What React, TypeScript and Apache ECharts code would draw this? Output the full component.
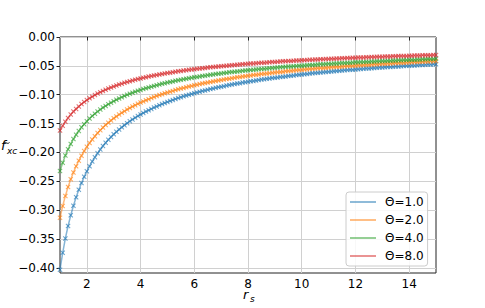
import React, { useEffect, useRef } from 'react';
import * as echarts from 'echarts';

const rs = [
  1.0, 1.1, 1.2, 1.3, 1.4, 1.5, 1.6, 1.7, 1.8, 1.9,
  2.0, 2.1, 2.2, 2.3, 2.4, 2.5, 2.6, 2.7, 2.8, 2.9,
  3.0, 3.1, 3.2, 3.3, 3.4, 3.5, 3.6, 3.7, 3.8, 3.9,
  4.0, 4.1, 4.2, 4.3, 4.4, 4.5, 4.6, 4.7, 4.8, 4.9,
  5.0, 5.1, 5.2, 5.3, 5.4, 5.5, 5.6, 5.7, 5.8, 5.9,
  6.0, 6.1, 6.2, 6.3, 6.4, 6.5, 6.6, 6.7, 6.8, 6.9,
  7.0, 7.1, 7.2, 7.3, 7.4, 7.5, 7.6, 7.7, 7.8, 7.9,
  8.0, 8.1, 8.2, 8.3, 8.4, 8.5, 8.6, 8.7, 8.8, 8.9,
  9.0, 9.1, 9.2, 9.3, 9.4, 9.5, 9.6, 9.7, 9.8, 9.9,
  10.0, 10.1, 10.2, 10.3, 10.4, 10.5, 10.6, 10.7, 10.8, 10.9,
  11.0, 11.1, 11.2, 11.3, 11.4, 11.5, 11.6, 11.7, 11.8, 11.9,
  12.0, 12.1, 12.2, 12.3, 12.4, 12.5, 12.6, 12.7, 12.8, 12.9,
  13.0, 13.1, 13.2, 13.3, 13.4, 13.5, 13.6, 13.7, 13.8, 13.9,
  14.0, 14.1, 14.2, 14.3, 14.4, 14.5, 14.6, 14.7, 14.8, 14.9,
  15.0,
];

const fxcTheta1 = [
  -0.4030, -0.3737, -0.3488, -0.3273, -0.3086, -0.2922, -0.2776, -0.2646, -0.2529, -0.2422,
  -0.2326, -0.2238, -0.2157, -0.2082, -0.2013, -0.1949, -0.1889, -0.1833, -0.1781, -0.1732,
  -0.1686, -0.1643, -0.1602, -0.1564, -0.1527, -0.1492, -0.1459, -0.1428, -0.1398, -0.1370,
  -0.1342, -0.1316, -0.1291, -0.1268, -0.1245, -0.1223, -0.1202, -0.1181, -0.1162, -0.1143,
  -0.1125, -0.1107, -0.1090, -0.1074, -0.1058, -0.1043, -0.1028, -0.1014, -0.1000, -0.0986,
  -0.0973, -0.0961, -0.0948, -0.0936, -0.0925, -0.0913, -0.0902, -0.0892, -0.0881, -0.0871,
  -0.0861, -0.0852, -0.0842, -0.0833, -0.0824, -0.0815, -0.0807, -0.0799, -0.0790, -0.0782,
  -0.0775, -0.0767, -0.0760, -0.0752, -0.0745, -0.0738, -0.0732, -0.0725, -0.0718, -0.0712,
  -0.0706, -0.0700, -0.0693, -0.0688, -0.0682, -0.0676, -0.0670, -0.0665, -0.0660, -0.0654,
  -0.0649, -0.0644, -0.0639, -0.0634, -0.0629, -0.0625, -0.0620, -0.0615, -0.0611, -0.0606,
  -0.0602, -0.0598, -0.0593, -0.0589, -0.0585, -0.0581, -0.0577, -0.0573, -0.0569, -0.0566,
  -0.0562, -0.0558, -0.0554, -0.0551, -0.0547, -0.0544, -0.0540, -0.0537, -0.0534, -0.0530,
  -0.0527, -0.0524, -0.0521, -0.0518, -0.0515, -0.0512, -0.0509, -0.0506, -0.0503, -0.0500,
  -0.0497, -0.0494, -0.0492, -0.0489, -0.0486, -0.0483, -0.0481, -0.0478, -0.0476, -0.0473,
  -0.0471,
];

const fxcTheta2 = [
  -0.3130, -0.2927, -0.2752, -0.2599, -0.2465, -0.2345, -0.2238, -0.2142, -0.2055, -0.1975,
  -0.1902, -0.1835, -0.1774, -0.1717, -0.1663, -0.1614, -0.1568, -0.1524, -0.1484, -0.1445,
  -0.1409, -0.1375, -0.1343, -0.1313, -0.1284, -0.1256, -0.1230, -0.1205, -0.1181, -0.1158,
  -0.1136, -0.1115, -0.1095, -0.1076, -0.1058, -0.1040, -0.1023, -0.1006, -0.0991, -0.0975,
  -0.0961, -0.0946, -0.0933, -0.0919, -0.0906, -0.0894, -0.0882, -0.0870, -0.0859, -0.0848,
  -0.0837, -0.0826, -0.0816, -0.0806, -0.0797, -0.0788, -0.0779, -0.0770, -0.0761, -0.0753,
  -0.0745, -0.0737, -0.0729, -0.0721, -0.0714, -0.0707, -0.0699, -0.0693, -0.0686, -0.0679,
  -0.0673, -0.0666, -0.0660, -0.0654, -0.0648, -0.0642, -0.0637, -0.0631, -0.0626, -0.0620,
  -0.0615, -0.0610, -0.0605, -0.0600, -0.0595, -0.0590, -0.0586, -0.0581, -0.0576, -0.0572,
  -0.0568, -0.0563, -0.0559, -0.0555, -0.0551, -0.0547, -0.0543, -0.0539, -0.0535, -0.0531,
  -0.0528, -0.0524, -0.0521, -0.0517, -0.0514, -0.0510, -0.0507, -0.0503, -0.0500, -0.0497,
  -0.0494, -0.0491, -0.0488, -0.0485, -0.0482, -0.0479, -0.0476, -0.0473, -0.0470, -0.0467,
  -0.0465, -0.0462, -0.0459, -0.0457, -0.0454, -0.0451, -0.0449, -0.0446, -0.0444, -0.0441,
  -0.0439, -0.0437, -0.0434, -0.0432, -0.0430, -0.0427, -0.0425, -0.0423, -0.0421, -0.0419,
  -0.0416,
];

const fxcTheta4 = [
  -0.2320, -0.2177, -0.2053, -0.1946, -0.1852, -0.1768, -0.1693, -0.1626, -0.1565, -0.1509,
  -0.1458, -0.1411, -0.1368, -0.1328, -0.1290, -0.1256, -0.1223, -0.1193, -0.1164, -0.1137,
  -0.1111, -0.1087, -0.1064, -0.1042, -0.1022, -0.1002, -0.0983, -0.0966, -0.0948, -0.0932,
  -0.0916, -0.0901, -0.0887, -0.0873, -0.0860, -0.0847, -0.0835, -0.0823, -0.0811, -0.0800,
  -0.0789, -0.0779, -0.0769, -0.0759, -0.0750, -0.0740, -0.0732, -0.0723, -0.0715, -0.0706,
  -0.0698, -0.0691, -0.0683, -0.0676, -0.0669, -0.0662, -0.0655, -0.0649, -0.0642, -0.0636,
  -0.0630, -0.0624, -0.0618, -0.0612, -0.0607, -0.0601, -0.0596, -0.0591, -0.0586, -0.0581,
  -0.0576, -0.0571, -0.0567, -0.0562, -0.0557, -0.0553, -0.0549, -0.0545, -0.0540, -0.0536,
  -0.0532, -0.0528, -0.0525, -0.0521, -0.0517, -0.0513, -0.0510, -0.0506, -0.0503, -0.0499,
  -0.0496, -0.0493, -0.0490, -0.0486, -0.0483, -0.0480, -0.0477, -0.0474, -0.0471, -0.0468,
  -0.0465, -0.0463, -0.0460, -0.0457, -0.0454, -0.0452, -0.0449, -0.0446, -0.0444, -0.0441,
  -0.0439, -0.0437, -0.0434, -0.0432, -0.0429, -0.0427, -0.0425, -0.0423, -0.0420, -0.0418,
  -0.0416, -0.0414, -0.0412, -0.0410, -0.0408, -0.0406, -0.0404, -0.0402, -0.0400, -0.0398,
  -0.0396, -0.0394, -0.0392, -0.0390, -0.0389, -0.0387, -0.0385, -0.0383, -0.0381, -0.0380,
  -0.0378,
];

const fxcTheta8 = [
  -0.1620, -0.1538, -0.1466, -0.1401, -0.1344, -0.1292, -0.1245, -0.1202, -0.1162, -0.1126,
  -0.1093, -0.1061, -0.1033, -0.1005, -0.0980, -0.0956, -0.0934, -0.0913, -0.0893, -0.0874,
  -0.0856, -0.0839, -0.0823, -0.0808, -0.0793, -0.0779, -0.0766, -0.0753, -0.0741, -0.0729,
  -0.0718, -0.0707, -0.0696, -0.0686, -0.0676, -0.0667, -0.0658, -0.0649, -0.0641, -0.0633,
  -0.0625, -0.0617, -0.0610, -0.0602, -0.0595, -0.0588, -0.0582, -0.0575, -0.0569, -0.0563,
  -0.0557, -0.0551, -0.0546, -0.0540, -0.0535, -0.0530, -0.0525, -0.0520, -0.0515, -0.0510,
  -0.0506, -0.0501, -0.0497, -0.0492, -0.0488, -0.0484, -0.0480, -0.0476, -0.0472, -0.0468,
  -0.0465, -0.0461, -0.0457, -0.0454, -0.0450, -0.0447, -0.0444, -0.0440, -0.0437, -0.0434,
  -0.0431, -0.0428, -0.0425, -0.0422, -0.0419, -0.0417, -0.0414, -0.0411, -0.0408, -0.0406,
  -0.0403, -0.0401, -0.0398, -0.0396, -0.0393, -0.0391, -0.0388, -0.0386, -0.0384, -0.0382,
  -0.0379, -0.0377, -0.0375, -0.0373, -0.0371, -0.0369, -0.0367, -0.0365, -0.0363, -0.0361,
  -0.0359, -0.0357, -0.0355, -0.0353, -0.0351, -0.0350, -0.0348, -0.0346, -0.0344, -0.0343,
  -0.0341, -0.0339, -0.0338, -0.0336, -0.0334, -0.0333, -0.0331, -0.0330, -0.0328, -0.0327,
  -0.0325, -0.0324, -0.0322, -0.0321, -0.0319, -0.0318, -0.0316, -0.0315, -0.0314, -0.0312,
  -0.0311,
];

const seriesNames = ['Θ=1.0', 'Θ=2.0', 'Θ=4.0', 'Θ=8.0'];
const seriesValues = [fxcTheta1, fxcTheta2, fxcTheta4, fxcTheta8];
const xTickValues = [2, 4, 6, 8, 10, 12, 14];
const yTickValues = [-0.4, -0.35, -0.3, -0.25, -0.2, -0.15, -0.1, -0.05, 0];

const COLORS = ['#1f77b4', '#ff7f0e', '#2ca02c', '#d62728'];
const LEGEND_COLORS = [
  'rgba(31,119,180,0.5)',
  'rgba(255,127,14,0.5)',
  'rgba(44,160,44,0.5)',
  'rgba(214,39,40,0.5)',
];
const FONT = 'DejaVu Sans';
const X_MARK =
  'path://M0,1.5L1.5,0L5,3.5L8.5,0L10,1.5L6.5,5L10,8.5L8.5,10L5,6.5L1.5,10L0,8.5L3.5,5Z';

const fmt = (v: number) => v.toFixed(2).replace('-', '\u2212');

export default function App() {
  const ref = useRef<HTMLDivElement>(null);

  useEffect(() => {
    if (!ref.current) return;
    const chart = echarts.init(ref.current, undefined, { renderer: 'svg' });
    chart.setOption({
      animation: false,
      backgroundColor: '#ffffff',
      grid: {
        left: 60,
        top: 37,
        right: 49,
        bottom: 35,
        show: true,
        borderColor: '#222222',
        borderWidth: 1,
        backgroundColor: 'transparent',
      },
      xAxis: {
        type: 'value',
        min: 1,
        max: 15,
        axisLine: { show: false },
        axisTick: {
          show: true,
          inside: false,
          length: 3.5,
          customValues: xTickValues,
          lineStyle: { color: '#222222', width: 1 },
        },
        axisLabel: {
          customValues: xTickValues,
          formatter: (v: number) => String(v),
          margin: 5,
          lineHeight: 12,
          fontFamily: FONT,
          fontSize: 12,
          color: '#000000',
        },
        splitLine: { show: true, lineStyle: { color: '#d0d0d0', width: 1 } },
      },
      yAxis: {
        type: 'value',
        min: -0.4087,
        max: 0,
        axisLine: { show: false },
        axisTick: {
          show: true,
          inside: false,
          length: 3.5,
          customValues: yTickValues,
          lineStyle: { color: '#222222', width: 1 },
        },
        axisLabel: {
          customValues: yTickValues,
          formatter: (v: number) => fmt(v),
          margin: 5,
          fontFamily: FONT,
          fontSize: 12,
          color: '#000000',
        },
        splitLine: { show: true, lineStyle: { color: '#d0d0d0', width: 1 } },
      },
      legend: {
        orient: 'vertical',
        left: 346,
        top: 192,
        backgroundColor: 'rgba(255,255,255,0.85)',
        borderColor: '#cccccc',
        borderWidth: 1,
        borderRadius: 3,
        padding: [3, 4, 3, 4],
        itemGap: 4,
        itemWidth: 26,
        itemHeight: 2,
        selectedMode: false,
        textStyle: {
          fontFamily: FONT,
          fontSize: 12,
          color: '#000000',
          lineHeight: 14,
          padding: [0, 0, 0, 4],
        },
        data: seriesNames.map((n, i) => ({
          name: n,
          icon: 'rect',
          itemStyle: { color: LEGEND_COLORS[i], opacity: 1 },
        })),
      },
      graphic: [
        {
          type: 'bezierCurve',
          shape: { x1: 3.2, y1: 143.2, x2: 9.4, y2: 142.4, cpx1: 5, cpy1: 140.2, cpx2: 7.6, cpy2: 145.4 },
          style: { stroke: '#000000', lineWidth: 0.9, fill: 'none' },
        },
        {
          type: 'text',
          x: 1,
          y: 139,
          style: { text: 'f', font: `italic 13px "${FONT}"`, fill: '#000000' },
        },
        {
          type: 'text',
          x: 7,
          y: 146,
          style: { text: 'xc', font: `italic 9px "${FONT}"`, fill: '#000000' },
        },
        {
          type: 'text',
          x: 243,
          y: 290.5,
          style: { text: 'r', font: `italic 13px "${FONT}"`, fill: '#000000', lineHeight: 8 },
        },
        {
          type: 'text',
          x: 250,
          y: 295.5,
          style: { text: 's', font: `italic 9px "${FONT}"`, fill: '#000000', lineHeight: 6 },
        },
      ],
      series: seriesValues.map((vals, i) => ({
        type: 'line',
        name: seriesNames[i],
        data: rs.map((x, j) => [x, vals[j]]),
        symbol: X_MARK,
        symbolSize: 5,
        showSymbol: true,
        lineStyle: { color: COLORS[i], width: 1.5, opacity: 0.55 },
        itemStyle: { color: COLORS[i], opacity: 0.65 },
        emphasis: { disabled: true },
        silent: true,
        clip: true,
        z: 2 + i,
      })),
    });
    return () => chart.dispose();
  }, []);

  return (
    <div
      ref={ref}
      style={{ position: 'absolute', left: 0, top: 0, width: 485, height: 308 }}
    />
  );
}
